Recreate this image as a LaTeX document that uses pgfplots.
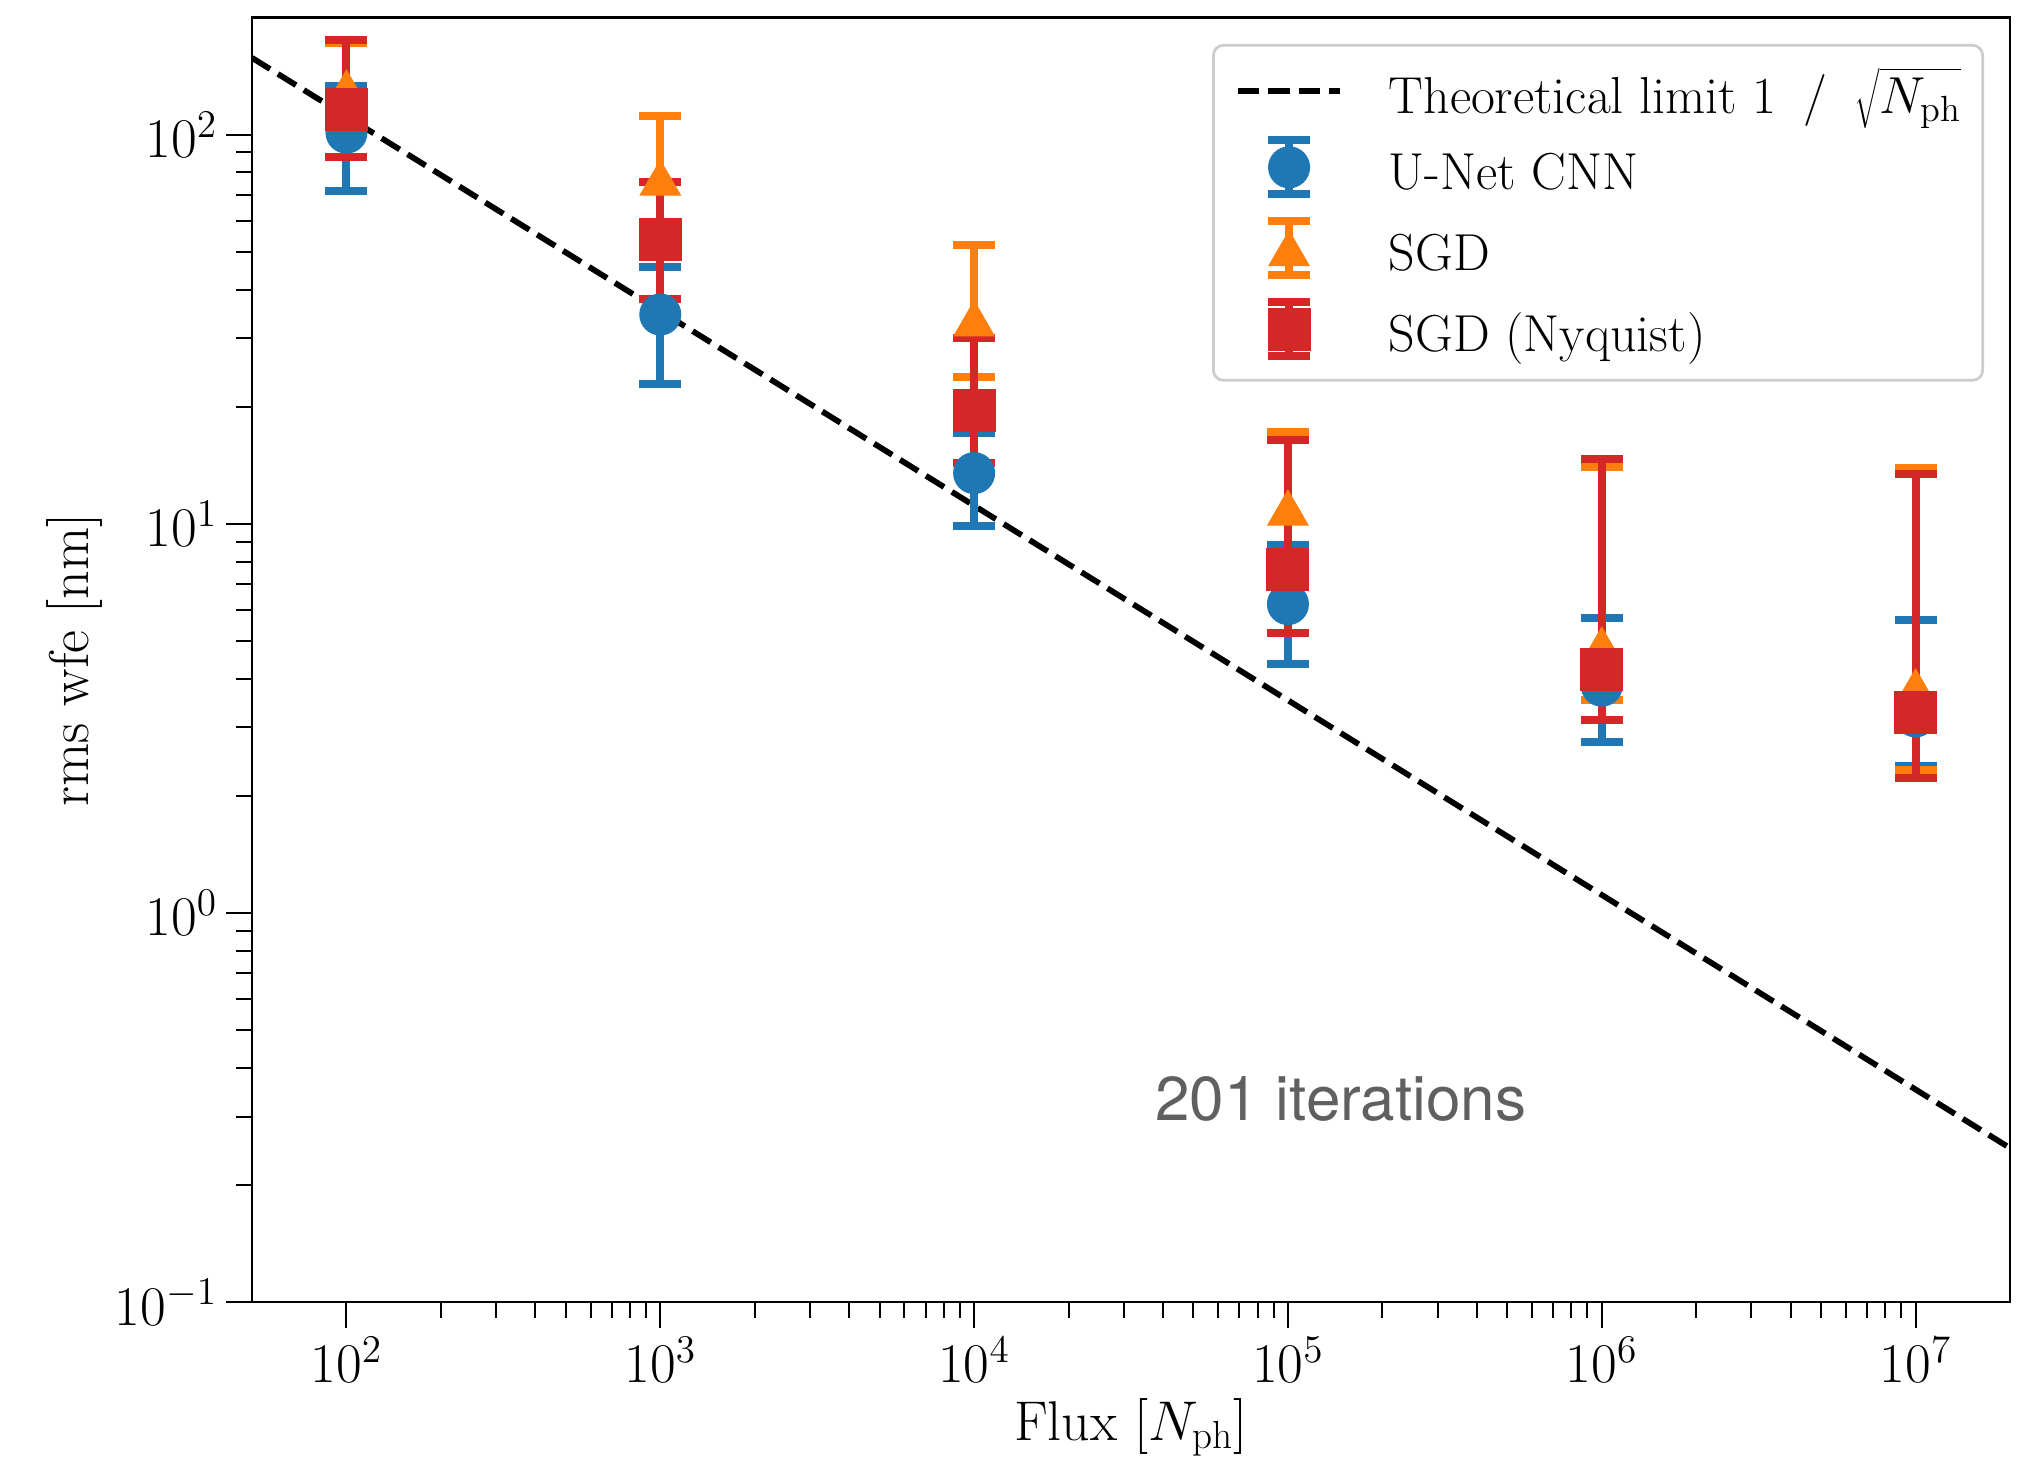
\RequirePackage{fix-cm}
\documentclass[border=0pt]{standalone}
\usepackage{fontspec}
\newfontfamily\heros{TeX Gyre Heros}
\usepackage{pgfplots}
\pgfplotsset{compat=1.18}

\definecolor{tabblue}{HTML}{1F77B4}
\definecolor{taborange}{HTML}{FF7F0E}
\definecolor{tabred}{HTML}{D62728}
\definecolor{notegray}{HTML}{606060}

% strut so every legend row has the same height
\newcommand{\ls}{\rule[-4.7pt]{0pt}{24pt}}
\newcommand{\bigfont}{\fontsize{22.4}{27}\selectfont}
\newcommand{\legfont}{\fontsize{20.8}{25}\selectfont}

\pgfplotsset{
  % legend image: error bar with caps and the marker
  errleg/.style n args={4}{legend image code/.code={
    \draw[#1, line width=3.2pt, sharp corners]
      (20.5pt,-10.8pt) -- (20.5pt,10.8pt)
      (12.1pt,-10.8pt) -- (28.9pt,-10.8pt)
      (12.1pt,10.8pt) -- (28.9pt,10.8pt);
    \begin{scope}[shift={(20.5pt,#4)}, sharp corners, color=#1, line width=0.4pt]
      \pgfsetplotmarksize{#3}\pgfuseplotmark{#2}
    \end{scope}
  }},
  errs/.style={only marks,
    error bars/y dir=both, error bars/y explicit,
    error bars/error bar style={line width=3.2pt, #1},
    error bars/error mark options={rotate=90, line width=3.2pt, mark size=8.4pt, #1}},
}

\begin{document}
\begin{tikzpicture}
\useasboundingbox (-100.8pt,-62pt) rectangle (709.2pt,520.9pt);
\begin{axis}[
  at={(0pt,0pt)}, anchor=south west,
  scale only axis, width=703.2pt, height=513.9pt,
  xmode=log, ymode=log,
  xmin=50, xmax=2e7, ymin=0.1, ymax=200,
  xtick={1e2,1e3,1e4,1e5,1e6,1e7}, ytick={0.1,1,10,100},
  tick align=outside, xtick pos=left, ytick pos=left,
  major tick length=10.4pt, minor tick length=6.4pt,
  every tick/.append style={black, line width=0.8pt},
  axis line style={line width=0.9pt},
  tick label style={font=\bigfont},
  label style={font=\bigfont},
  xlabel={Flux [$N_{\mathrm{ph}}$]},
  ylabel={rms wfe [nm]},
  xlabel style={at={([yshift=-55.1pt]axis description cs:0.5,0)}, anchor=base},
  ylabel style={at={([xshift=-65.6pt]axis description cs:0,0.5)}, anchor=base},
  legend cell align=left,
  legend style={
    at={(0.9852,0.9794)}, anchor=north east,
    draw=black!20, line width=1.1pt, rounded corners=4pt, fill=white,
    inner xsep=8.6pt, inner ysep=8pt,
    row sep=7.6pt, column sep=18.2pt,
    nodes={inner sep=0pt},
    font=\legfont,
  },
]

\addplot[black, line width=2.3pt, dash pattern=on 8.5pt off 3.7pt,
  legend image code/.code={\draw[black, line width=2.3pt, dash pattern=on 8.5pt off 3.7pt, sharp corners] (0pt,0pt) -- (41pt,0pt);}]
  coordinates {(50,157.5) (2e7,0.249)};
\addlegendentry{\ls Theoretical limit 1\hspace{4.5pt} / \hspace{4.5pt}$\smash{\sqrt{\rule[-6pt]{0pt}{23pt}N_{\mathrm{ph}}}}$}

% U-Net CNN
\addplot[tabblue, errs=tabblue, mark=*, mark size=8.2pt, errleg={tabblue}{*}{8.2pt}{0pt}]
  coordinates {
    (1e2,101.2) += (0,32.4) -= (0,29.7)
    (1e3,34.5)  += (0,11.1) -= (0,11.6)
    (1e4,13.5)  += (0,3.6)  -= (0,3.6)
    (1e5,6.22)  += (0,2.62) -= (0,1.86)
    (1e6,3.84)  += (0,1.89) -= (0,1.09)
    (1e7,3.2)   += (0,2.46) -= (0,0.82)
  };
\addlegendentry{\ls U-Net CNN}

% SGD
\addplot[taborange, errs=taborange, mark=triangle*, mark size=9.3pt, mark options={yshift=-2.3pt},
  errleg={taborange}{triangle*}{9.3pt}{-2.3pt}]
  coordinates {
    (1e2,132)  += (0,40)    -= (0,22)
    (1e3,77.5) += (0,33.9)  -= (0,22.5)
    (1e4,33.7) += (0,18.5)  -= (0,9.8)
    (1e5,11.0) += (0,6.2)   -= (0,3.5)
    (1e6,4.89) += (0,9.11)  -= (0,1.36)
    (1e7,3.82) += (0,10.08) -= (0,1.49)
  };
\addlegendentry{\ls SGD}

% SGD (Nyquist)
\addplot[tabred, errs=tabred, mark=square*, mark size=8.4pt, errleg={tabred}{square*}{8.4pt}{0pt}]
  coordinates {
    (1e2,115.8) += (0,59.2)  -= (0,28.1)
    (1e3,53.7)  += (0,21.7)  -= (0,15.9)
    (1e4,19.5)  += (0,10.5)  -= (0,5.2)
    (1e5,7.62)  += (0,8.78)  -= (0,2.38)
    (1e6,4.22)  += (0,10.48) -= (0,1.09)
    (1e7,3.27)  += (0,10.13) -= (0,1.05)
  };
\addlegendentry{\ls SGD (Nyquist)}

\node[font=\heros\fontsize{24.8}{30}\selectfont, text=notegray, anchor=base]
  at (axis description cs:0.6193,0.1413) {201 iterations};
\end{axis}
\end{tikzpicture}
\end{document}
